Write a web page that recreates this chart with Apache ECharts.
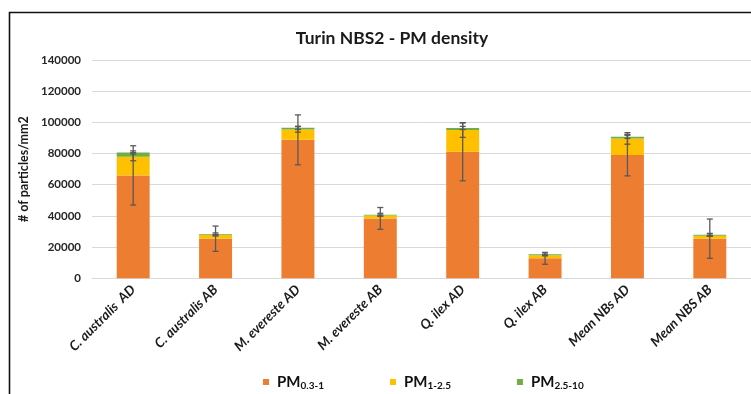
<!DOCTYPE html>
<html>
<head>
<meta charset="utf-8">
<script src="https://cdn.jsdelivr.net/npm/echarts@6/dist/echarts.min.js"></script>
<style>
  html, body { margin: 0; padding: 0; background: #fff; }
  #chart { width: 751px; height: 394px; }
</style>
</head>
<body>
<div id="chart"></div>
<script>
// Sampling sites / leaf sides
const categories = ['C. australis  AD', 'C. australis AB', 'M. evereste AD', 'M. evereste AB',
                    'Q. ilex AD', 'Q. ilex AB', 'Mean NBs AD', 'Mean NBS AB'];

// Particle density per size fraction (# of particles/mm2)
const pm03_1  = [66000, 25400, 88800, 38400, 81100, 12800, 79000, 25400];
const pm1_25  = [12000,  2300,  6700,  1800, 14000,  2000, 10700,  1900];
const pm25_10 = [ 2700,   500,  1000,   600,  1300,   600,  1000,   600];

// Standard deviations (error bars, drawn at the top of each stacked segment)
const err03_1  = [19000, 8100, 16000, 7000, 18600, 3800, 13300, 12600];
const err1_25  = [ 2600,  400,  1800,  400,  4700,  300,  3700,   400];
const err25_10 = [ 1000,  900,  1000,  900,  1000,  900,  1000,   900];

const yTicks = { min: 0, max: 140000, interval: 20000 };

const seriesNames = ['PM0.3-1', 'PM1-2.5', 'PM2.5-10'];
const subNames = ['0.3-1', '1-2.5', '2.5-10'];
const colors = ['#ED7D31', '#FFC000', '#70AD47'];

// Cumulative tops of each segment, used to place error bars
function errorData(values, errs, below) {
  return values.map((v, i) => {
    let top = v;
    below.forEach(arr => { top += arr[i]; });
    return [i, top - errs[i], top + errs[i]];
  });
}
const errSets = [
  errorData(pm03_1, err03_1, []),
  errorData(pm1_25, err1_25, [pm03_1]),
  errorData(pm25_10, err25_10, [pm03_1, pm1_25])
];

function renderErrorBar(params, api) {
  const x = api.value(0);
  const lo = api.coord([x, api.value(1)]);
  const hi = api.coord([x, api.value(2)]);
  const half = 3;
  const style = { stroke: '#595959', lineWidth: 1.3, fill: null };
  return {
    type: 'group',
    children: [
      { type: 'line', shape: { x1: lo[0], y1: lo[1], x2: hi[0], y2: hi[1] }, style },
      { type: 'line', shape: { x1: lo[0] - half, y1: lo[1], x2: lo[0] + half, y2: lo[1] }, style },
      { type: 'line', shape: { x1: hi[0] - half, y1: hi[1], x2: hi[0] + half, y2: hi[1] }, style }
    ]
  };
}

const chart = echarts.init(document.getElementById('chart'));
chart.setOption({
  animation: false,
  backgroundColor: '#fff',
  title: {
    text: 'Turin NBS2 - PM density',
    left: 387, top: 24, textAlign: 'center',
    textStyle: { fontFamily: 'Lato', fontWeight: 'bold', fontSize: 17.5, color: '#1a1a1a' }
  },
  graphic: [
    { type: 'polyline', shape: { points: [[9.5, 394], [9.5, 12.5], [751, 12.5]] },
      style: { stroke: '#111', lineWidth: 1.6, fill: null }, silent: true }
  ],
  grid: { left: 92, top: 60, width: 661, height: 218.3 },
  legend: {
    left: 258, top: 368,
    itemWidth: 6, itemHeight: 6, itemGap: 66,
    icon: 'rect',
    data: seriesNames,
    formatter: name => '{a|PM}{b|' + subNames[seriesNames.indexOf(name)] + '}',
    textStyle: {
      padding: [0, 0, 0, 3],
      rich: {
        a: { fontFamily: 'Lato', fontWeight: 'bold', fontSize: 15, color: '#111', lineHeight: 18 },
        b: { fontFamily: 'Lato', fontWeight: 'bold', fontSize: 10, color: '#111', lineHeight: 18, padding: [8, 0, 0, 0] }
      }
    }
  },
  xAxis: {
    type: 'category',
    data: categories,
    axisLine: { show: true, lineStyle: { color: '#d9d9d9', width: 1 } },
    axisTick: { show: false },
    axisLabel: {
      rotate: 45, margin: 9, interval: 0,
      fontFamily: 'Lato', fontWeight: 'bold', fontStyle: 'italic', fontSize: 13.5, color: '#1a1a1a'
    }
  },
  yAxis: {
    type: 'value',
    min: yTicks.min, max: yTicks.max, interval: yTicks.interval,
    name: '# of particles/mm2',
    nameLocation: 'middle', nameGap: 54, nameRotate: 90,
    nameTextStyle: { fontFamily: 'Lato', fontWeight: 'bold', fontSize: 12.5, color: '#1a1a1a' },
    axisLine: { show: false },
    axisTick: { show: false },
    splitLine: { lineStyle: { color: '#d9d9d9', width: 1 } },
    axisLabel: {
      margin: 11, fontFamily: 'Lato', fontWeight: 'bold', fontSize: 11.5, color: '#262626',
      formatter: v => String(v)
    }
  },
  series: [
    { name: seriesNames[0], type: 'bar', stack: 'pm', data: pm03_1, barWidth: '40%', itemStyle: { color: colors[0] } },
    { name: seriesNames[1], type: 'bar', stack: 'pm', data: pm1_25, barWidth: '40%', itemStyle: { color: colors[1] } },
    { name: seriesNames[2], type: 'bar', stack: 'pm', data: pm25_10, barWidth: '40%', itemStyle: { color: colors[2] } },
    ...errSets.map(d => ({
      type: 'custom', renderItem: renderErrorBar, data: d, z: 10,
      encode: { x: 0, y: [1, 2] }
    }))
  ]
});
</script>
</body>
</html>
